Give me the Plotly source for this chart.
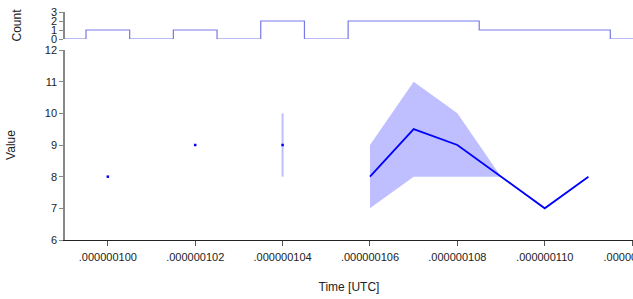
import plotly.graph_objects as go

# ---- data ----
times = [100, 101, 102, 103, 104, 105, 106, 107, 108, 109, 110, 111]
values = [8, None, 9, None, 9, None, 8, 9.5, 9, 8, 7, 8]
lows = [None, None, None, None, 8, None, 7, 8, 8, 8, None, None]
highs = [None, None, None, None, 10, None, 9, 11, 10, 8, None, None]

count_times = [98, 99, 100, 101, 102, 103, 104, 105, 106, 107, 108, 109, 110, 111, 112, 113]
counts = [0, 0, 1, 0, 1, 0, 2, 0, 2, 2, 2, 1, 1, 1, 0, 0]

tick_vals = [100, 102, 104, 106, 108, 110, 112]
tick_text = [".000000100", ".000000102", ".000000104", ".000000106",
             ".000000108", ".000000110", ".000000112"]

BLUE = "#0000ff"
BAND = "rgba(0,0,255,0.25)"
FONT = "Liberation Sans, Arial, sans-serif"

fig = go.Figure()

# band segments
seg = []
def flush(seg):
    if not seg:
        return
    if len(seg) == 1:
        i = seg[0]
        fig.add_trace(go.Scatter(x=[times[i], times[i]], y=[lows[i], highs[i]],
                                 mode="lines", line=dict(color=BAND, width=2),
                                 hoverinfo="skip", showlegend=False))
    else:
        xs = [times[i] for i in seg] + [times[i] for i in reversed(seg)]
        ys = [highs[i] for i in seg] + [lows[i] for i in reversed(seg)]
        fig.add_trace(go.Scatter(x=xs, y=ys, mode="lines", fill="toself",
                                 fillcolor=BAND, line=dict(width=0),
                                 hoverinfo="skip", showlegend=False))

for i in range(len(times)):
    if lows[i] is not None and highs[i] is not None:
        seg.append(i)
    else:
        flush(seg)
        seg = []
flush(seg)

# mean line
fig.add_trace(go.Scatter(x=times, y=values, mode="lines",
                         line=dict(color=BLUE, width=1.8), connectgaps=False,
                         showlegend=False))

# isolated points as markers
iso_x, iso_y = [], []
for i, v in enumerate(values):
    if v is None:
        continue
    prev_none = i == 0 or values[i - 1] is None
    next_none = i == len(values) - 1 or values[i + 1] is None
    if prev_none and next_none:
        iso_x.append(times[i])
        iso_y.append(v)
fig.add_trace(go.Scatter(x=iso_x, y=iso_y, mode="markers",
                         marker=dict(color=BLUE, size=2.5, symbol="square",
                                     line=dict(width=0)),
                         showlegend=False))

# count step
fig.add_trace(go.Scatter(x=count_times, y=counts, mode="lines", line_shape="hvh",
                         line=dict(color="rgb(120,120,235)", width=1.2),
                         xaxis="x2", yaxis="y2", showlegend=False))

H = 299
top, bottom = 12, 59
ph = H - top - bottom

def dom(px_bottom, px_top):
    return [(H - bottom - px_bottom) / ph, (H - bottom - px_top) / ph]

XR = [99.02, 112.02]

fig.update_layout(
    width=633, height=299,
    margin=dict(l=65, r=0, t=top, b=bottom, autoexpand=False),
    paper_bgcolor="white", plot_bgcolor="white",
    font=dict(family=FONT, size=11, color="#222"),
    xaxis=dict(range=XR, tickvals=tick_vals, ticktext=tick_text,
               showgrid=False, zeroline=False, showline=True, linecolor="#222",
               linewidth=1.2, ticks="outside", ticklen=5, tickcolor="#555",
               ticklabelstandoff=2, ticklabeloverflow="allow",
               title=dict(text="Time [UTC]", font=dict(size=12), standoff=20),
               anchor="y", automargin=False),
    yaxis=dict(domain=dom(240, 50), range=[6, 12], dtick=1, showgrid=False,
               zeroline=False, showline=True, linecolor="#888", linewidth=1.5,
               ticks="outside", ticklen=4, tickcolor="#888",
               title=dict(text="Value", font=dict(size=12), standoff=27),
               anchor="x", automargin=False),
    xaxis2=dict(range=XR, matches="x", showticklabels=False,
                showgrid=False, zeroline=False, showline=False, ticks="",
                anchor="y2", automargin=False),
    yaxis2=dict(domain=dom(39, 12), range=[0, 3], tickvals=[0, 1, 2, 3],
                showgrid=False, zeroline=False, showline=True, linecolor="#888",
                linewidth=1.5, ticks="outside", ticklen=4, tickcolor="#888",
                title=dict(text="Count", font=dict(size=12), standoff=27),
                anchor="x2", automargin=False),
)

fig.write_html("out.html", config={"displayModeBar": False},
               post_script="document.body.style.margin='0';document.body.style.overflow='hidden';")
